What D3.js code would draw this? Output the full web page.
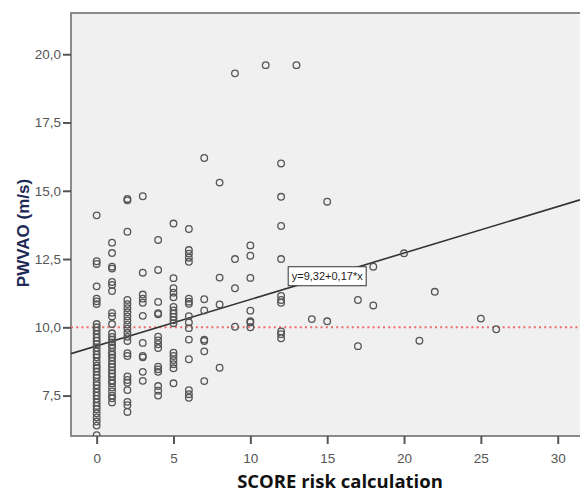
<!DOCTYPE html>
<html>
<head>
<meta charset="utf-8">
<script src="https://cdnjs.cloudflare.com/ajax/libs/d3/7.8.5/d3.min.js"></script>
<style>
  body { margin: 0; background: #fff; }
  svg { display: block; }
</style>
</head>
<body>
<script>
// SCORE values (x) and the PWVAO readings seen at each of them
var scores = [0, 1, 2, 3, 4, 5, 6, 7, 8, 9, 10, 11, 12, 13, 14, 15, 17, 18, 20, 21, 22, 25, 26];
var pwvByScore = [
    [14.1, 12.42, 12.32, 11.5, 11.05, 10.95, 10.85, 10.12, 10.0, 9.88, 9.75, 9.62, 9.5, 9.38, 9.25, 9.12, 9.0,
     8.9, 8.75, 8.6, 8.5, 8.38, 8.25, 8.15, 8.0, 7.88, 7.75, 7.62, 7.5, 7.38, 7.25, 7.12, 7.0, 6.85, 6.7, 6.55, 6.4, 6.05],
    [13.1, 12.72, 12.22, 12.15, 11.66, 11.55, 11.33, 10.53, 10.4, 10.12, 9.78, 9.65, 9.55, 9.45, 9.35, 9.25, 9.1,
     9.0, 8.9, 8.78, 8.65, 8.55, 8.42, 8.3, 8.2, 8.05, 7.95, 7.8, 7.65, 7.5, 7.4, 7.25],
    [14.7, 14.65, 13.5, 11.0, 10.85, 10.7, 10.55, 10.4, 10.25, 10.1, 9.95, 9.8, 9.65, 9.5, 9.05, 8.95, 8.2,
     8.07, 7.97, 7.7, 7.27, 7.15, 6.9],
    [14.8, 12.0, 11.2, 11.05, 10.9, 10.42, 9.43, 8.95, 8.9, 8.37, 8.04],
    [13.2, 12.1, 10.93, 10.52, 10.48, 9.66, 9.52, 9.38, 9.24, 8.56, 8.46, 8.37, 7.85, 7.68, 7.5],
    [13.8, 11.8, 11.43, 11.27, 11.1, 10.75, 10.62, 10.5, 10.38, 10.26, 10.15, 9.07, 8.95, 8.8, 8.65, 8.5, 7.95],
    [13.6, 12.83, 12.7, 12.55, 12.4, 11.05, 10.94, 10.86, 10.41, 10.18, 9.97, 9.55, 8.83, 7.7, 7.55, 7.42],
    [16.2, 11.03, 10.62, 9.55, 9.5, 9.12, 8.03],
    [15.3, 11.82, 10.84, 8.52],
    [19.3, 12.5, 11.43, 10.02],
    [13.0, 12.62, 11.81, 10.61, 10.22, 10.18, 10.0],
    [19.6],
    [16.0, 14.78, 13.71, 12.5, 11.15, 11.0, 10.9, 9.85, 9.75, 9.6],
    [19.6],
    [10.3],
    [14.6, 10.22],
    [11.0, 9.31],
    [12.22, 10.8],
    [12.71],
    [9.51],
    [11.3],
    [10.32],
    [9.93]
];
var xTicks = [0, 5, 10, 15, 20, 25, 30];
var yTicks = [7.5, 10, 12.5, 15, 17.5, 20];
var fitIntercept = 9.32;
var fitSlope = 0.17;
var fitLabel = "y=9,32+0,17*x";
var refLine = 10;
var xTitle = "SCORE risk calculation";
var yTitle = "PWVAO (m/s)";

var points = [];
scores.forEach(function(s, i) {
    pwvByScore[i].forEach(function(v) { points.push({score: s, pwv: v}); });
});

var W = 580, H = 493;
var plot = {left: 71, top: 13, right: 582, bottom: 436};

var xScale = d3.scaleLinear().domain([-1.67, 31.45]).range([plot.left, 580]);
var yScale = d3.scaleLinear().domain([6.02, 21.51]).range([plot.bottom, plot.top]);
var fmt = function(d) { return d3.format(".1f")(d).replace(".", ","); };

var svg = d3.select("body").append("svg")
    .attr("width", W)
    .attr("height", H);

// plot background + frame
svg.append("rect")
    .attr("x", plot.left).attr("y", plot.top)
    .attr("width", plot.right - plot.left).attr("height", plot.bottom - plot.top)
    .attr("fill", "#f0f0f0")
    .attr("stroke", "#8a8a8a")
    .attr("stroke-width", 2);

svg.append("clipPath").attr("id", "clip")
  .append("rect")
    .attr("x", plot.left).attr("y", plot.top)
    .attr("width", plot.right - plot.left).attr("height", plot.bottom - plot.top);

// axes
var xAxis = svg.append("g")
    .attr("transform", "translate(0," + plot.bottom + ")")
    .call(d3.axisBottom(xScale).tickValues(xTicks).tickSize(8).tickSizeOuter(0));
var yAxis = svg.append("g")
    .attr("transform", "translate(" + plot.left + ",0)")
    .call(d3.axisLeft(yScale).tickValues(yTicks).tickFormat(fmt).tickSize(8).tickSizeOuter(0));

[xAxis, yAxis].forEach(function(a) {
    a.select(".domain").remove();
    a.selectAll(".tick line").attr("stroke", "#555").attr("stroke-width", 2);
    a.selectAll(".tick text")
        .attr("fill", "#555")
        .style("font-family", "'Liberation Sans', Arial, sans-serif")
        .style("font-size", "13.5px");
});
xAxis.selectAll(".tick text").attr("dy", "1.2em");
yAxis.selectAll(".tick text").attr("x", -10);

var g = svg.append("g").attr("clip-path", "url(#clip)");

// reference line at 10
g.append("line")
    .attr("x1", plot.left).attr("x2", plot.right)
    .attr("y1", yScale(refLine)).attr("y2", yScale(refLine))
    .attr("stroke", "#f06a6a")
    .attr("stroke-width", 2)
    .attr("stroke-dasharray", "2,3.2");

// fit line
var xd = xScale.domain();
g.append("line")
    .attr("x1", xScale(xd[0])).attr("x2", xScale(xd[1]))
    .attr("y1", yScale(fitIntercept + fitSlope * xd[0]))
    .attr("y2", yScale(fitIntercept + fitSlope * xd[1]))
    .attr("stroke", "#333")
    .attr("stroke-width", 1.6);

// points
g.selectAll(".dot")
    .data(points)
  .enter().append("circle")
    .attr("class", "dot")
    .attr("cx", function(d) { return xScale(d.score); })
    .attr("cy", function(d) { return yScale(d.pwv); })
    .attr("r", 3.3)
    .attr("fill", "none")
    .attr("stroke", "#555")
    .attr("stroke-width", 1.3);

// equation label on the line
var labelX = 15;
var lbl = svg.append("g")
    .attr("transform", "translate(" + xScale(labelX) + "," + yScale(fitIntercept + fitSlope * labelX) + ")");
lbl.append("rect")
    .attr("x", -39).attr("y", -9.5)
    .attr("width", 78).attr("height", 19)
    .attr("fill", "#fff")
    .attr("stroke", "#333")
    .attr("stroke-width", 1);
lbl.append("text")
    .attr("text-anchor", "middle")
    .attr("dy", "0.35em")
    .attr("fill", "#222")
    .style("font-family", "'Liberation Sans', Arial, sans-serif")
    .style("font-size", "11px")
    .text(fitLabel);

// titles
svg.append("text")
    .attr("x", 340).attr("y", 488)
    .attr("text-anchor", "middle")
    .attr("fill", "#111")
    .style("font-family", "'Open Sans', sans-serif")
    .style("font-weight", "bold")
    .style("font-size", "18.5px")
    .text(xTitle);

svg.append("text")
    .attr("transform", "translate(29,233) rotate(-90)")
    .attr("text-anchor", "middle")
    .attr("fill", "#1c2a55")
    .style("font-family", "'Liberation Sans', Arial, sans-serif")
    .style("font-weight", "bold")
    .style("font-size", "17px")
    .text(yTitle);
</script>
</body>
</html>
